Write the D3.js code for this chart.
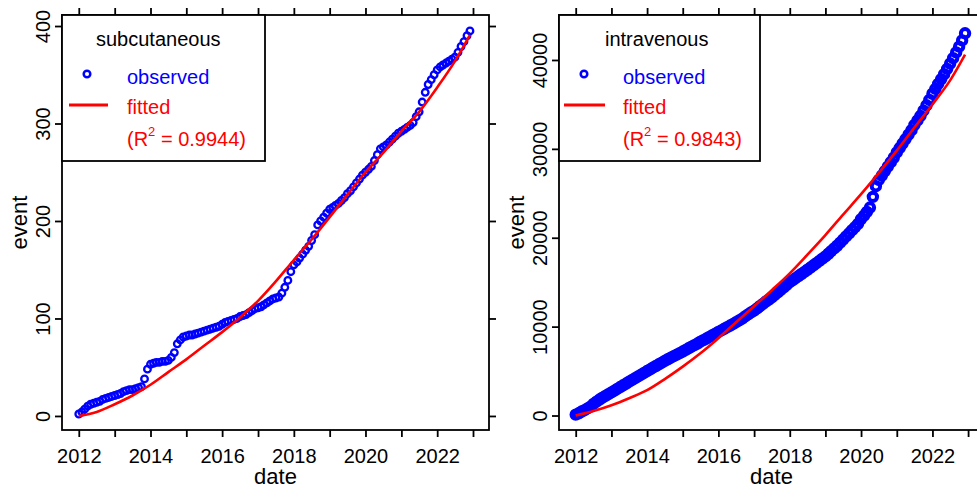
<!DOCTYPE html>
<html><head><meta charset="utf-8">
<script src="https://cdn.jsdelivr.net/npm/d3@7"></script>
<style>
body{margin:0;background:#fff}
svg{display:block;font-family:"Liberation Sans",Arial,sans-serif}
</style>
</head><body>
<svg id="chart" width="977" height="490"></svg>
<script>
// ---------- data (monthly cumulative events, Jan 2012 .. Dec 2022) ----------
const subObserved = [
  2, 4, 7, 10, 12, 13, 14, 15, 17, 18, 19, 20,
  21, 22, 23, 25, 26, 27, 27, 28, 29, 30, 38, 48,
  53, 54, 55, 55, 56, 56, 57, 60, 65, 74, 78, 81,
  82, 83, 83, 84, 85, 86, 87, 88, 89, 90, 91, 92,
  94, 96, 97, 98, 99, 100, 102, 103, 104, 106, 108, 110,
  111, 112, 114, 116, 118, 120, 121, 122, 126, 132, 139, 148,
  155, 158, 162, 166, 170, 174, 180, 186, 196, 200, 204, 208,
  212, 214, 216, 218, 221, 224, 228, 231, 235, 239, 243, 247,
  250, 253, 256, 262, 268, 274, 276, 278, 281, 284, 287, 290,
  292, 294, 296, 298, 301, 307, 312, 322, 332, 340, 345, 350,
  355, 358, 360, 362, 364, 366, 368, 373, 379, 384, 390, 395
];
const ivObserved = [
  100, 250, 450, 600, 800, 1000, 1300, 1550, 1800, 2000, 2200, 2400,
  2600, 2800, 3000, 3200, 3400, 3600, 3800, 4000, 4200, 4400, 4600, 4800,
  5000, 5190, 5380, 5570, 5760, 5950, 6150, 6330, 6500, 6680, 6850, 7020,
  7200, 7380, 7560, 7740, 7920, 8100, 8300, 8480, 8660, 8850, 9030, 9210,
  9400, 9580, 9760, 9940, 10120, 10300, 10500, 10700, 10900, 11150, 11380, 11600,
  11800, 12050, 12300, 12550, 12800, 13050, 13300, 13580, 13860, 14140, 14420, 14700,
  15000, 15230, 15460, 15690, 15920, 16150, 16400, 16650, 16900, 17150, 17400, 17650,
  17900, 18200, 18500, 18800, 19100, 19450, 19800, 20150, 20500, 20850, 21200, 21550,
  22100, 22500, 22900, 23400, 24600, 25800, 26500, 27000, 27500, 28000, 28500, 29000,
  29600, 30100, 30600, 31100, 31600, 32100, 32700, 33200, 33700, 34300, 34900, 35500,
  36200, 36750, 37300, 37850, 38400, 39000, 39600, 40200, 40850, 41500, 42200, 43000
];
const fittedDates = [
  "2012-01-01","2012-07-01","2013-01-01","2013-07-01","2014-01-01","2014-07-01",
  "2015-01-01","2015-07-01","2016-01-01","2016-07-01","2017-01-01","2017-07-01",
  "2018-01-01","2018-07-01","2019-01-01","2019-07-01","2020-01-01","2020-07-01",
  "2021-01-01","2021-07-01","2022-01-01","2022-07-01","2022-12-01"
];
const subFitted = [0, 4, 12, 21, 32, 45, 58, 72, 86, 101, 118, 138,
  160, 181, 204, 227, 250, 270, 292, 312, 337, 364, 391];
const ivFitted = [0, 500, 1150, 1950, 2850, 4100, 5500, 7000, 8700, 10500, 12300, 14100,
  16000, 18100, 20300, 22600, 24900, 27300, 29800, 32400, 35000, 37700, 40600];
const xTickYears = [2012, 2013, 2014, 2015, 2016, 2017, 2018, 2019, 2020, 2021, 2022, 2023];
const xLabelYears = [2012, 2014, 2016, 2018, 2020, 2022];
const subYTicks = [0, 100, 200, 300, 400];
const ivYTicks = [0, 10000, 20000, 30000, 40000];
const legendTitles = ["subcutaneous", "intravenous"];
const r2Values = ["0.9944", "0.9843"];

// ---------- layout ----------
const svg = d3.select("#chart");
const obsDates = d3.timeMonth.range(new Date(2012, 0, 1), new Date(2023, 0, 1));
const fitD = fittedDates.map(d => d3.timeParse("%Y-%m-%d")(d));
const BLUE = "#0000ff", RED = "#ff0000";
const FONT = "Liberation Sans, Arial, sans-serif";

const panels = [
  {obs: subObserved, fit: subFitted, yTicks: subYTicks, yDom: [-14.4, 411.3],
   left: 62, right: 489, title: legendTitles[0], r2: r2Values[0], legW: 203,
   legTitleX: 34, legTextX: 65, legCircleX: 25, legLine: [7, 46], ptR: 3.3, ptW: 2.3},
  {obs: ivObserved, fit: ivFitted, yTicks: ivYTicks, yDom: [-1630, 45060],
   left: 559, right: 984, title: legendTitles[1], r2: r2Values[1], legW: 201,
   legTitleX: 46, legTextX: 64, legCircleX: 25, legLine: [5, 46], ptR: 4.2, ptW: 4.0}
];
const plotTop = 15, plotBottom = 430;

panels.forEach(p => {
  const x = d3.scaleTime()
    .domain([new Date(2011, 6, 14), new Date(2023, 5, 13)])
    .range([p.left, p.right]);
  const y = d3.scaleLinear().domain(p.yDom).range([plotBottom, plotTop]);
  const g = svg.append("g");
  const yearDates = xTickYears.map(yr => new Date(yr, 0, 1));

  // bottom axis
  const ax = g.append("g").attr("transform", `translate(0,${plotBottom})`)
    .call(d3.axisBottom(x).tickValues(yearDates).tickSize(7)
      .tickFormat(d => xLabelYears.includes(d.getFullYear()) ? d.getFullYear() : ""));
  ax.select(".domain").remove();
  ax.selectAll("line").attr("stroke", "#000").attr("stroke-width", 1.8);
  ax.selectAll("text").attr("y", 33).attr("dy", null)
    .attr("font-size", 20).attr("fill", "#000").attr("font-family", FONT);

  // top axis (ticks only)
  const at = g.append("g").attr("transform", `translate(0,${plotTop})`)
    .call(d3.axisTop(x).tickValues(yearDates).tickSize(7).tickFormat(""));
  at.select(".domain").remove();
  at.selectAll("line").attr("stroke", "#000").attr("stroke-width", 1.8);

  // left axis
  const ay = g.append("g").attr("transform", `translate(${p.left},0)`)
    .call(d3.axisLeft(y).tickValues(p.yTicks).tickSize(7).tickFormat(d3.format("d")));
  ay.select(".domain").remove();
  ay.selectAll("line").attr("stroke", "#000").attr("stroke-width", 1.8);
  ay.selectAll("text")
    .attr("x", 0).attr("y", -12).attr("dy", null)
    .attr("transform", "rotate(-90)")
    .attr("text-anchor", "middle")
    .attr("font-size", 20).attr("fill", "#000").attr("font-family", FONT);

  // right axis (ticks only)
  const ar = g.append("g").attr("transform", `translate(${p.right},0)`)
    .call(d3.axisRight(y).tickValues(p.yTicks).tickSize(7).tickFormat(""));
  ar.select(".domain").remove();
  ar.selectAll("line").attr("stroke", "#000").attr("stroke-width", 1.8);

  // box
  g.append("rect").attr("x", p.left).attr("y", plotTop)
    .attr("width", p.right - p.left).attr("height", plotBottom - plotTop)
    .attr("fill", "none").attr("stroke", "#000").attr("stroke-width", 1.8);

  // axis titles
  g.append("text").attr("x", (p.left + p.right) / 2).attr("y", 484)
    .attr("text-anchor", "middle").attr("font-size", 22).text("date");
  g.append("text").attr("transform", `translate(${p.left - 35},${(plotTop + plotBottom) / 2}) rotate(-90)`)
    .attr("text-anchor", "middle").attr("font-size", 22).text("event");

  // observed points
  g.append("g").selectAll("circle").data(p.obs).join("circle")
    .attr("cx", (d, i) => x(obsDates[i])).attr("cy", d => y(d))
    .attr("r", p.ptR).attr("fill", "none").attr("stroke", BLUE).attr("stroke-width", p.ptW);

  // fitted line
  const line = d3.line().x((d, i) => x(fitD[i])).y(d => y(d)).curve(d3.curveMonotoneX);
  g.append("path").datum(p.fit).attr("d", line)
    .attr("fill", "none").attr("stroke", RED).attr("stroke-width", 2.6);

  // legend
  const L = g.append("g").attr("transform", `translate(${p.left},${plotTop})`);
  L.append("rect").attr("x", 0).attr("y", 0).attr("width", p.legW).attr("height", 146)
    .attr("fill", "#fff").attr("stroke", "#000").attr("stroke-width", 1.8);
  L.append("text").attr("x", p.legTitleX).attr("y", 31).attr("font-size", 20)
    .attr("fill", "#000").text(p.title);
  L.append("circle").attr("cx", p.legCircleX).attr("cy", 59).attr("r", 3.3)
    .attr("fill", "none").attr("stroke", BLUE).attr("stroke-width", 2.5);
  L.append("text").attr("x", p.legTextX).attr("y", 69).attr("font-size", 20)
    .attr("fill", BLUE).text("observed");
  L.append("line").attr("x1", p.legLine[0]).attr("x2", p.legLine[1])
    .attr("y1", 90).attr("y2", 90).attr("stroke", RED).attr("stroke-width", 3);
  L.append("text").attr("x", p.legTextX).attr("y", 99).attr("font-size", 20)
    .attr("fill", RED).text("fitted");
  const r2 = L.append("text").attr("x", p.legTextX).attr("y", 131).attr("font-size", 20)
    .attr("fill", RED);
  r2.append("tspan").text("(R");
  r2.append("tspan").attr("font-size", 13).attr("dy", -10).text("2");
  r2.append("tspan").attr("dy", 10).text(" = " + p.r2 + ")");
});
</script>
</body></html>
